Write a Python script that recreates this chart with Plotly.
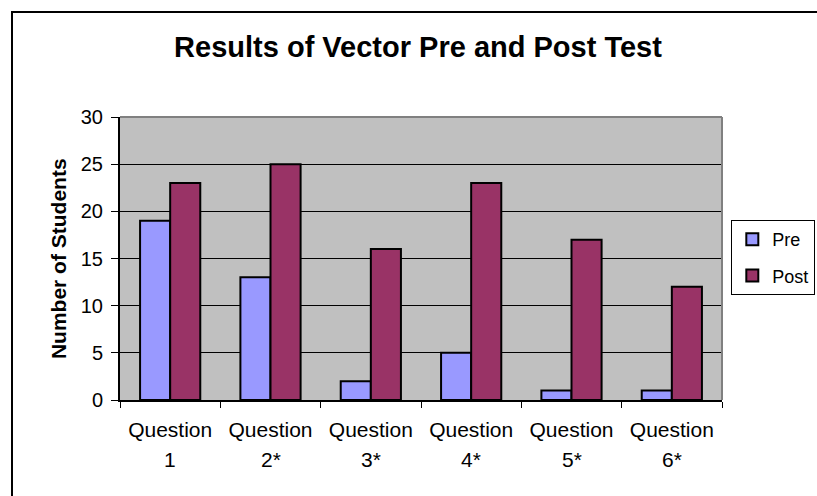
import plotly.graph_objects as go

categories = ["Question 1", "Question 2*", "Question 3*", "Question 4*", "Question 5*", "Question 6*"]
pre_values = [19, 13, 2, 5, 1, 1]
post_values = [23, 25, 16, 23, 17, 12]
y_ticks = [0, 5, 10, 15, 20, 25, 30]

FONT = "Arial, Liberation Sans, sans-serif"

fig = go.Figure()
fig.add_trace(go.Bar(name="Pre", x=categories, y=pre_values, legendgroup="pre",
                     marker=dict(color="#9999FF", line=dict(color="black", width=2))))
fig.add_trace(go.Bar(name="Post", x=categories, y=post_values, legendgroup="post",
                     marker=dict(color="#993366", line=dict(color="black", width=2))))

ticktext = [c.split(" ")[0] for c in categories]
numbers = [c.split(" ")[1] for c in categories]

annotations = [
    dict(x=c, y=-0.212, xref="x", yref="paper", text=n, showarrow=False,
         font=dict(family=FONT, size=21, color="black"), xanchor="center", yanchor="middle")
    for c, n in zip(categories, numbers)
]
annotations.append(dict(x=-0.102, y=0.5, xref="paper", yref="paper", text="<b>Number of Students</b>",
                        textangle=-90, showarrow=False, xanchor="center", yanchor="middle",
                        font=dict(family=FONT, size=21, color="black")))

fig.update_layout(
    width=817, height=496,
    margin=dict(l=120, r=95, t=117, b=96, autoexpand=False),
    paper_bgcolor="white", plot_bgcolor="#C0C0C0",
    barmode="group", bargap=0.4, bargroupgap=0,
    title=dict(text="<b>Results of Vector Pre and Post Test</b>", x=418 / 817, xanchor="center",
               y=1 - 47 / 496, yanchor="middle",
               font=dict(family=FONT, size=29, color="black")),
    font=dict(family=FONT, size=20, color="black"),
    legend=dict(x=1.155, y=0.636, xanchor="right", yanchor="top",
                bgcolor="white", bordercolor="black", borderwidth=1,
                tracegroupgap=10, itemwidth=30,
                font=dict(family=FONT, size=18, color="black"),
                itemclick=False),
    annotations=annotations,
    shapes=[
        dict(type="line", xref="paper", yref="paper", x0=0, x1=1, y0=1, y1=1,
             line=dict(color="#808080", width=2), layer="above"),
        dict(type="line", xref="paper", yref="paper", x0=1, x1=1, y0=0, y1=1,
             line=dict(color="#808080", width=2), layer="above"),
        dict(type="rect", xref="paper", yref="paper", x0=-0.1794, x1=1.3, y0=-0.5, y1=1.371,
             line=dict(color="black", width=2), fillcolor="rgba(0,0,0,0)", layer="above"),
    ],
)

fig.update_xaxes(
    type="category", tickmode="array", tickvals=categories, ticktext=ticktext,
    tickson="boundaries", ticks="outside", ticklen=6, tickcolor="black", tickwidth=1,
    ticklabelstandoff=10,
    showline=True, linecolor="black", linewidth=2, showgrid=False,
    tickfont=dict(family=FONT, size=21, color="black"),
)
fig.update_yaxes(
    range=[0, 30], tickvals=y_ticks, ticks="outside", ticklen=7, tickcolor="black", tickwidth=1,
    ticklabelstandoff=4,
    showline=True, linecolor="black", linewidth=2,
    showgrid=True, gridcolor="black", gridwidth=1, zeroline=False,
    tickfont=dict(family=FONT, size=20, color="black"),
)

fig.write_html("out.html", config={"displayModeBar": False},
               post_script="document.body.style.margin='0';document.body.style.overflow='hidden';")
